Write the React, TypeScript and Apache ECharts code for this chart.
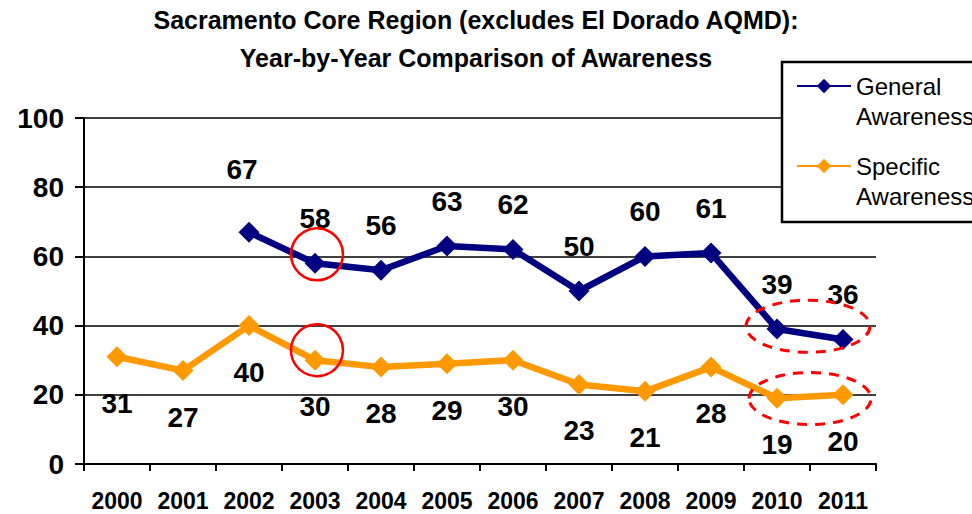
import React, { useEffect, useRef } from "react";
import * as echarts from "echarts";

const years = ["2000", "2001", "2002", "2003", "2004", "2005", "2006", "2007", "2008", "2009", "2010", "2011"];
const generalAwareness = [null, null, 67, 58, 56, 63, 62, 50, 60, 61, 39, 36];
const specificAwareness = [31, 27, 40, 30, 28, 29, 30, 23, 21, 28, 19, 20];
const yTicks = [0, 20, 40, 60, 80, 100];

const FONT = "'Liberation Sans', Arial, Helvetica, sans-serif";
const NAVY = "#000080";
const ORANGE = "#FF9900";

export default function App() {
  const ref = useRef<HTMLDivElement>(null);
  useEffect(() => {
    if (!ref.current) return;
    const chart = echarts.init(ref.current, undefined, { renderer: "svg" });
    const labelBase = { show: true, fontFamily: FONT, fontSize: 28, fontWeight: "bold", color: "#000" };
    chart.setOption({
      animation: false,
      backgroundColor: "#fff",
      title: {
        text: "Sacramento Core Region (excludes El Dorado AQMD):\nYear-by-Year Comparison of Awareness",
        left: 476,
        top: 1,
        padding: 0,
        textAlign: "center",
        textStyle: { fontFamily: FONT, fontSize: 25, fontWeight: "bold", color: "#000", lineHeight: 38 },
      },
      grid: { left: 84, right: 96, top: 118, bottom: 50 },
      legend: {
        orient: "vertical",
        left: 796,
        top: 41,
        padding: 0,
        itemGap: -10,
        itemWidth: 54,
        itemHeight: 18,
        z: 10,
        selectedMode: false,
        formatter: (name: string) => "\n" + name.replace(" ", "\n"),
        textStyle: { fontFamily: FONT, fontSize: 24, color: "#000", lineHeight: 30 },
        data: ["General Awareness", "Specific Awareness"],
      },
      xAxis: {
        type: "category",
        data: years,
        boundaryGap: true,
        axisLine: { lineStyle: { color: "#000", width: 2 } },
        axisTick: { show: true, length: 7, interval: 0, lineStyle: { color: "#000", width: 2 } },
        axisLabel: { interval: 0, fontFamily: FONT, fontSize: 23, fontWeight: "bold", color: "#000", margin: 25 },
        splitLine: { show: false },
      },
      yAxis: {
        type: "value",
        min: yTicks[0],
        max: yTicks[yTicks.length - 1],
        interval: 20,
        axisLine: { show: true, lineStyle: { color: "#000", width: 2 } },
        axisTick: { show: true, length: 9, lineStyle: { color: "#000", width: 2 } },
        axisLabel: { fontFamily: FONT, fontSize: 28, fontWeight: "bold", color: "#000", margin: 20 },
        splitLine: { show: true, lineStyle: { color: "#000", width: 1.5 } },
      },
      series: [
        {
          name: "General Awareness",
          type: "line",
          data: generalAwareness.map((v, i) =>
            i === 2 ? { value: v, label: { offset: [-7, -18] } } : v
          ),
          symbol: "diamond",
          symbolSize: 21,
          lineStyle: { color: NAVY, width: 6.5 },
          itemStyle: { color: NAVY },
          label: { ...labelBase, position: "top", distance: 20 },
          z: 3,
        },
        {
          name: "Specific Awareness",
          type: "line",
          data: specificAwareness,
          symbol: "diamond",
          symbolSize: 21,
          lineStyle: { color: ORANGE, width: 6.5 },
          itemStyle: { color: ORANGE },
          label: { ...labelBase, position: "bottom", distance: 22 },
          z: 3,
        },
      ],
    });

    const px = (cat: string, v: number) => chart.convertToPixel({ xAxisIndex: 0, yAxisIndex: 0 }, [cat, v]) as number[];
    const b03 = px(years[3], generalAwareness[3] as number);
    const o03 = px(years[3], specificAwareness[3]);
    const b10 = px(years[10], generalAwareness[10] as number);
    const b11 = px(years[11], generalAwareness[11] as number);
    const o10 = px(years[10], specificAwareness[10]);
    const o11 = px(years[11], specificAwareness[11]);
    const red = "#FF0000";
    chart.setOption({
      graphic: [
        {
          type: "rect",
          z: 5,
          shape: { x: 782, y: 62, width: 300, height: 160 },
          style: { fill: "#fff", stroke: "#000", lineWidth: 2.5 },
        },
        {
          type: "circle",
          z: 20,
          shape: { cx: b03[0] + 2, cy: b03[1] - 9, r: 26 },
          style: { fill: "none", stroke: red, lineWidth: 2.5 },
        },
        {
          type: "circle",
          z: 20,
          shape: { cx: o03[0] + 2, cy: o03[1] - 10, r: 26 },
          style: { fill: "none", stroke: red, lineWidth: 2.5 },
        },
        {
          type: "ellipse",
          z: 20,
          shape: { cx: (b10[0] + b11[0]) / 2 - 2, cy: (b10[1] + b11[1]) / 2 - 8, rx: 62, ry: 26 },
          style: { fill: "none", stroke: red, lineWidth: 3, lineDash: [10, 8] },
        },
        {
          type: "ellipse",
          z: 20,
          shape: { cx: (o10[0] + o11[0]) / 2, cy: (o10[1] + o11[1]) / 2 + 2, rx: 61, ry: 26 },
          style: { fill: "none", stroke: red, lineWidth: 3, lineDash: [10, 8] },
        },
      ],
    });

    return () => chart.dispose();
  }, []);
  return <div ref={ref} style={{ position: "absolute", left: 0, top: 0, width: 972, height: 514 }} />;
}
